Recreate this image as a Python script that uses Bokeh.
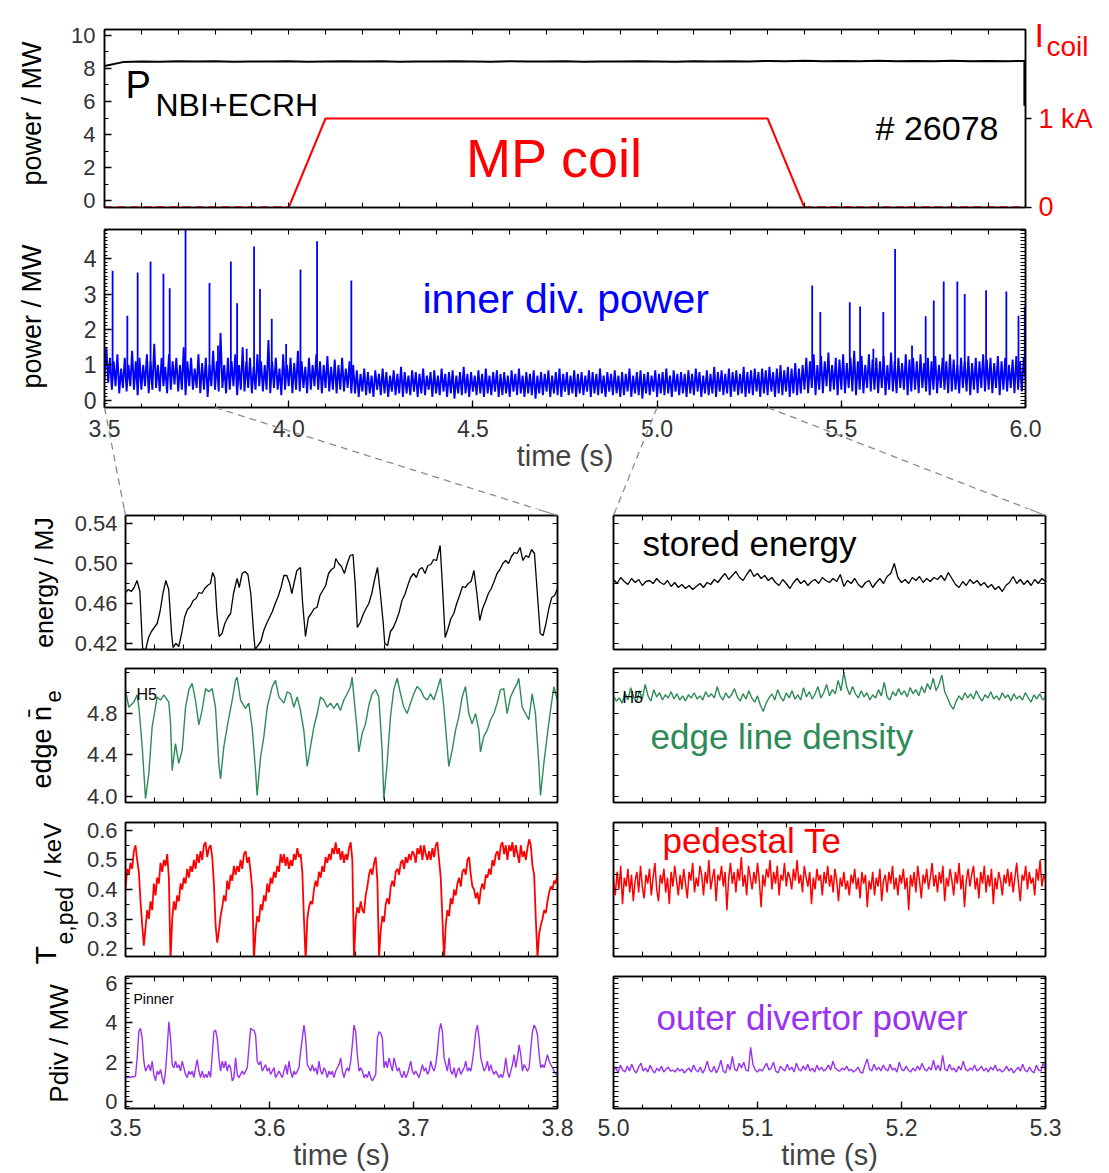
import numpy as np
from bokeh.plotting import figure
from bokeh.models import Range1d, LinearAxis, FixedTicker, PrintfTickFormatter
from bokeh.core.properties import value
from bokeh.layouts import column, row
from bokeh.embed import file_html
from bokeh.resources import INLINE

FONT = "Liberation Sans"
RED = "#ff0000"
BLUE = "#0000ff"
GREEN = "#2e8b57"
PURPLE = "#9a32f2"

# ------------------------------------------------------------------ data
# top panel: heating power (MW), sampled uniformly 3.5 ... 6.0 s
nbi_power = [8.15, 8.38, 8.42, 8.40, 8.43, 8.41, 8.44, 8.40, 8.42, 8.41,
             8.43, 8.40, 8.42, 8.44, 8.41, 8.43, 8.40, 8.42, 8.41, 8.43,
             8.42, 8.40, 8.43, 8.41, 8.42, 8.44, 8.40, 8.42, 8.41, 8.43,
             8.42, 8.40, 8.43, 8.41, 8.44, 8.42, 8.45, 8.43, 8.46, 8.44,
             8.45, 8.43, 8.46, 8.44, 8.45, 8.43, 8.46, 8.44, 8.45, 8.44, 8.45]
nbi_off_t = [5.997, 5.997]
nbi_off_p = [8.45, 5.75]
# MP coil current (kA)
coil_t = [3.5, 4.0, 4.1, 5.3, 5.4, 6.0]
coil_ka = [0.0, 0.0, 1.0, 1.0, 0.0, 0.0]

# inner divertor power (MW), uniform samples 3.5 ... 6.0 s (noise band)
inner_div = [
    0.6, 1.5, 0.5, 1.2, 0.3, 1.1, 0.4, 1.3, 0.2, 0.9, 0.35, 1.2, 0.25, 1.0, 0.4, 1.4, 0.3, 1.1, 0.15, 1.2,
    0.3, 1.0, 0.4, 1.3, 0.2, 1.1, 0.3, 1.6, 0.35, 1.0, 0.25, 1.2, 0.4, 0.95, 0.2, 1.3, 0.3, 1.1, 0.45, 1.2,
    0.25, 1.0, 0.3, 1.5, 0.15, 1.1, 0.4, 1.2, 0.3, 0.9, 0.35, 1.3, 0.2, 1.05, 0.3, 1.2, 0.1, 1.0, 0.4, 1.4,
    0.3, 1.1, 0.25, 1.9, 0.35, 1.0, 0.2, 1.2, 0.3, 1.1, 0.4, 1.3, 0.15, 1.0, 0.3, 1.5, 0.25, 1.1, 0.35, 1.2,
    0.2, 0.95, 0.3, 1.3, 0.4, 1.1, 0.25, 1.0, 0.3, 1.7, 0.2, 1.1, 0.35, 1.2, 0.3, 0.9, 0.15, 1.3, 0.3, 1.0,
    0.4, 1.2, 0.2, 1.05, 0.3, 1.4, 0.25, 1.1, 0.35, 0.95, 0.2, 1.2, 0.3, 1.0, 0.4, 1.3, 0.3, 1.1, 0.2, 1.0,
    0.35, 1.25, 0.25, 0.95, 0.3, 1.15, 0.2, 1.0, 0.3, 1.2, 0.25, 0.9, 0.35, 1.1, 0.2, 1.0,
    0.2, 0.85, 0.1, 0.75, 0.25, 0.9, 0.15, 0.8, 0.2, 0.7, 0.1, 0.85, 0.3, 0.75, 0.15, 0.9, 0.2, 0.8, 0.1, 0.7,
    0.25, 0.85, 0.15, 0.75, 0.2, 0.95, 0.1, 0.8, 0.2, 0.7, 0.15, 0.85, 0.25, 0.8, 0.1, 0.75, 0.2, 0.9, 0.15, 0.7,
    0.3, 0.8, 0.1, 0.85, 0.2, 0.7, 0.15, 0.9, 0.25, 0.75, 0.1, 0.8, 0.2, 0.85, 0.05, 0.7, 0.2, 0.8, 0.15, 0.95,
    0.2, 0.75, 0.1, 0.8, 0.25, 0.7, 0.15, 0.85, 0.2, 0.75, 0.1, 0.9, 0.2, 0.7, 0.15, 0.8, 0.25, 0.85, 0.1, 0.75,
    0.15, 0.8, 0.2, 0.7, 0.1, 0.85, 0.25, 0.75, 0.15, 0.9, 0.2, 0.7, 0.1, 0.8, 0.2, 0.75, 0.15, 0.85, 0.05, 0.7,
    0.2, 0.8, 0.15, 0.75, 0.25, 0.85, 0.1, 0.7, 0.2, 0.8, 0.15, 0.9, 0.1, 0.75, 0.25, 0.8, 0.15, 0.7, 0.2, 0.85,
    0.1, 0.75, 0.2, 0.8, 0.15, 0.7, 0.25, 0.85, 0.1, 0.8, 0.2, 0.75, 0.15, 0.9, 0.2, 0.7, 0.1, 0.8, 0.25, 0.75,
    0.15, 0.85, 0.2, 0.7, 0.1, 0.8, 0.15, 0.75, 0.25, 0.9, 0.1, 0.7, 0.2, 0.8, 0.15, 0.85, 0.05, 0.75, 0.2, 0.8,
    0.15, 0.7, 0.25, 0.85, 0.1, 0.75, 0.2, 0.8, 0.15, 0.9, 0.2, 0.7, 0.1, 0.85, 0.25, 0.75, 0.15, 0.8, 0.2, 0.75,
    0.1, 0.85, 0.2, 0.75, 0.15, 0.9, 0.25, 0.8, 0.1, 0.7, 0.2, 0.85, 0.15, 0.75, 0.2, 0.95, 0.1, 0.8, 0.25, 0.85,
    0.15, 0.75, 0.2, 0.9, 0.1, 0.8, 0.25, 0.85, 0.15, 0.75, 0.2, 0.95, 0.1, 0.8, 0.2, 0.85, 0.15, 0.9, 0.25, 0.8,
    0.1, 0.9, 0.2, 0.85, 0.15, 0.95, 0.25, 0.8, 0.1, 0.9, 0.2, 1.0, 0.15, 0.85, 0.25, 0.95, 0.1, 0.9, 0.2, 1.05,
    0.15, 0.9, 0.2, 1.0,
    0.3, 1.2, 0.2, 1.1, 0.35, 1.3, 0.15, 1.0, 0.3, 1.25, 0.2, 1.1, 0.4, 1.35, 0.25, 1.0, 0.3, 1.2, 0.15, 1.15,
    0.3, 1.3, 0.2, 1.05, 0.35, 1.2, 0.25, 1.4, 0.15, 1.1, 0.3, 1.25, 0.2, 1.0, 0.35, 1.3, 0.25, 1.15, 0.3, 1.2,
    0.2, 1.1, 0.35, 1.25, 0.15, 1.0, 0.3, 1.35, 0.25, 1.1, 0.2, 1.2, 0.35, 1.05, 0.3, 1.3, 0.15, 1.15, 0.25, 1.2,
    0.3, 1.1, 0.2, 1.3, 0.35, 1.05, 0.25, 1.2, 0.15, 1.1, 0.3, 1.25, 0.2, 1.0, 0.35, 1.2, 0.3, 1.1, 0.2, 1.3,
    0.25, 1.15, 0.3, 1.0, 0.2, 1.2, 0.35, 1.1, 0.25, 1.25, 0.15, 1.05, 0.3, 1.2, 0.2, 1.1, 0.35, 1.3, 0.25, 1.15,
    0.3, 1.2, 0.2, 1.05, 0.35, 1.25, 0.15, 1.1, 0.3, 1.2, 0.25, 1.0, 0.35, 1.15, 0.2, 1.25, 0.3, 1.1, 0.25, 1.2,
    0.6]
# ELM spikes on the inner divertor power
spike_t = [3.522, 3.562, 3.590, 3.625, 3.660, 3.677, 3.720, 3.785, 3.808, 3.843,
           3.860, 3.886, 3.906, 3.922, 3.954, 3.993, 4.032, 4.077, 4.170,
           5.421, 5.443, 5.523, 5.551, 5.587, 5.614, 5.646, 5.692, 5.729, 5.751,
           5.778, 5.815, 5.835, 5.893, 5.948, 5.981, 5.998]
spike_peak = [3.66, 2.39, 3.61, 3.92, 3.57, 3.16, 4.90, 3.31, 1.55, 3.92,
              2.74, 1.46, 4.34, 3.14, 2.30, 1.59, 3.69, 4.49, 3.38,
              3.24, 2.49, 2.77, 2.65, 1.46, 2.49, 4.27, 1.55, 2.37, 2.82,
              3.35, 3.35, 3.00, 3.11, 3.07, 2.39, 2.65]

# zoom windows
win_left = (3.5, 3.8)
win_right = (5.0, 5.3)

# stored energy (MJ), 3.5-3.8 s
energy_l_t = [3.500, 3.502, 3.504, 3.506, 3.508, 3.510, 3.5115, 3.512, 3.514, 3.516,
              3.518, 3.520, 3.522, 3.524, 3.526, 3.528, 3.530, 3.532, 3.533, 3.535,
              3.537, 3.539, 3.541, 3.543, 3.545, 3.547, 3.549, 3.551, 3.553, 3.555,
              3.557, 3.559, 3.5605, 3.562, 3.5635, 3.565, 3.567, 3.569, 3.571, 3.573,
              3.575, 3.5775, 3.579, 3.581, 3.583, 3.585, 3.587, 3.589, 3.590, 3.592,
              3.594, 3.596, 3.598, 3.600, 3.602, 3.604, 3.606, 3.608, 3.610, 3.612,
              3.614, 3.6155, 3.617, 3.619, 3.6215, 3.623, 3.625, 3.627, 3.629, 3.631,
              3.633, 3.635, 3.637, 3.639, 3.641, 3.643, 3.645, 3.646, 3.648, 3.650,
              3.652, 3.654, 3.656, 3.658, 3.6595, 3.661, 3.663, 3.665, 3.667, 3.669,
              3.671, 3.673, 3.675, 3.677, 3.679, 3.680, 3.682, 3.684, 3.686, 3.688,
              3.690, 3.692, 3.694, 3.696, 3.698, 3.700, 3.702, 3.704, 3.706, 3.708,
              3.710, 3.712, 3.714, 3.716, 3.7185, 3.720, 3.722, 3.724, 3.726, 3.728,
              3.730, 3.732, 3.734, 3.736, 3.738, 3.740, 3.742, 3.744, 3.746, 3.748,
              3.750, 3.752, 3.754, 3.756, 3.758, 3.760, 3.762, 3.764, 3.766, 3.768,
              3.770, 3.772, 3.774, 3.776, 3.778, 3.780, 3.782, 3.784, 3.786, 3.788,
              3.790, 3.792, 3.794, 3.796, 3.798, 3.800]
energy_l = [0.471, 0.474, 0.472, 0.476, 0.483, 0.472, 0.425, 0.414, 0.414, 0.426,
            0.432, 0.436, 0.440, 0.452, 0.470, 0.483, 0.474, 0.430, 0.416, 0.420,
            0.417, 0.430, 0.446, 0.454, 0.457, 0.463, 0.465, 0.471, 0.470, 0.475,
            0.478, 0.480, 0.491, 0.486, 0.450, 0.427, 0.430, 0.440, 0.446, 0.450,
            0.470, 0.485, 0.476, 0.490, 0.492, 0.489, 0.470, 0.430, 0.414, 0.418,
            0.422, 0.433, 0.440, 0.446, 0.452, 0.460, 0.467, 0.476, 0.488, 0.488,
            0.480, 0.470, 0.480, 0.493, 0.496, 0.460, 0.427, 0.446, 0.450, 0.455,
            0.456, 0.468, 0.473, 0.478, 0.490, 0.494, 0.496, 0.505, 0.500, 0.497,
            0.490, 0.500, 0.508, 0.509, 0.480, 0.436, 0.441, 0.449, 0.455, 0.460,
            0.470, 0.484, 0.496, 0.470, 0.440, 0.420, 0.418, 0.432, 0.436, 0.443,
            0.451, 0.463, 0.469, 0.478, 0.486, 0.490, 0.486, 0.494, 0.496, 0.490,
            0.498, 0.499, 0.504, 0.503, 0.518, 0.480, 0.426, 0.435, 0.445, 0.450,
            0.460, 0.468, 0.477, 0.476, 0.480, 0.482, 0.493, 0.470, 0.443, 0.455,
            0.462, 0.470, 0.475, 0.482, 0.490, 0.494, 0.500, 0.503, 0.500, 0.507,
            0.511, 0.510, 0.516, 0.503, 0.508, 0.506, 0.514, 0.510, 0.470, 0.430,
            0.428, 0.440, 0.455, 0.466, 0.468, 0.475]

# edge line density, 3.5-3.8 s
ne_l_t = [3.5000, 3.5023, 3.5058, 3.5081, 3.5093, 3.5116, 3.5139, 3.5162, 3.5185, 3.5220,
          3.5243, 3.5266, 3.5301, 3.5313, 3.5324, 3.5347, 3.5370, 3.5394, 3.5417, 3.5440,
          3.5463, 3.5486, 3.5509, 3.5532, 3.5556, 3.5579, 3.5602, 3.5625, 3.5648, 3.5660,
          3.5683, 3.5706, 3.5741, 3.5764, 3.5775, 3.5799, 3.5833, 3.5856, 3.5880, 3.5903,
          3.5914, 3.5938, 3.5961, 3.5984, 3.6019, 3.6042, 3.6065, 3.6100, 3.6123, 3.6146,
          3.6169, 3.6192, 3.6215, 3.6238, 3.6262, 3.6285, 3.6308, 3.6331, 3.6354, 3.6377,
          3.6400, 3.6424, 3.6447, 3.6470, 3.6493, 3.6516, 3.6539, 3.6563, 3.6574, 3.6586,
          3.6609, 3.6620, 3.6644, 3.6667, 3.6690, 3.6713, 3.6736, 3.6759, 3.6782, 3.6794,
          3.6817, 3.6840, 3.6863, 3.6887, 3.6910, 3.6933, 3.6956, 3.6979, 3.7002, 3.7025,
          3.7049, 3.7072, 3.7095, 3.7118, 3.7141, 3.7164, 3.7188, 3.7211, 3.7234, 3.7245,
          3.7269, 3.7292, 3.7315, 3.7338, 3.7361, 3.7384, 3.7407, 3.7431, 3.7454, 3.7465,
          3.7488, 3.7512, 3.7535, 3.7558, 3.7581, 3.7604, 3.7627, 3.7650, 3.7674, 3.7697,
          3.7720, 3.7731, 3.7755, 3.7778, 3.7801, 3.7824, 3.7847, 3.7870, 3.7882, 3.7905,
          3.7928, 3.7951, 3.7975, 3.7998]
ne_l = [5.03, 4.86, 4.91, 4.98, 4.86, 4.48, 3.98, 4.22, 4.67, 4.96,
        4.93, 4.98, 4.91, 4.70, 4.25, 4.51, 4.32, 4.45, 4.86, 5.03,
        5.09, 4.93, 4.69, 4.83, 5.04, 5.01, 5.04, 4.86, 4.32, 4.17,
        4.48, 4.67, 4.93, 5.12, 5.15, 4.93, 4.85, 4.90, 4.66, 4.25,
        4.01, 4.38, 4.58, 4.86, 5.06, 5.12, 4.96, 4.90, 5.01, 4.99,
        4.86, 4.96, 4.83, 4.64, 4.29, 4.48, 4.67, 4.80, 4.96, 4.93,
        4.86, 4.90, 4.85, 4.90, 4.83, 4.93, 4.99, 5.06, 5.15, 4.96,
        4.64, 4.43, 4.61, 4.70, 4.88, 4.99, 5.03, 4.96, 4.45, 3.97,
        4.32, 4.77, 5.03, 5.14, 4.99, 4.86, 4.80, 4.90, 4.99, 5.06,
        5.03, 4.96, 4.93, 4.99, 4.93, 5.03, 5.14, 4.86, 4.48, 4.29,
        4.45, 4.64, 4.77, 4.96, 5.06, 4.80, 4.70, 4.80, 4.64, 4.43,
        4.58, 4.64, 4.74, 4.80, 4.90, 5.03, 5.04, 4.80, 4.96, 5.03,
        5.09, 5.14, 4.86, 4.80, 4.74, 4.99, 4.80, 4.32, 4.01, 4.32,
        4.58, 4.83, 5.06, 4.93]

# pedestal Te (keV), uniform samples 3.5-3.8 s
te_l = [0.40, 0.47, 0.45, 0.49, 0.47, 0.53, 0.55, 0.50, 0.46, 0.36, 0.28, 0.21, 0.27, 0.33, 0.30, 0.36, 0.33, 0.42, 0.38, 0.44,
        0.42, 0.49, 0.46, 0.50, 0.48, 0.52, 0.44, 0.16, 0.30, 0.36, 0.33, 0.38, 0.36, 0.42, 0.40, 0.44, 0.42, 0.47, 0.44, 0.48,
        0.46, 0.50, 0.47, 0.52, 0.49, 0.53, 0.50, 0.55, 0.56, 0.51, 0.54, 0.55, 0.51, 0.42, 0.28, 0.22, 0.26, 0.31, 0.34, 0.38,
        0.36, 0.43, 0.40, 0.45, 0.43, 0.48, 0.45, 0.48, 0.46, 0.50, 0.47, 0.52, 0.53, 0.49, 0.51, 0.46, 0.40, 0.16, 0.26, 0.31,
        0.29, 0.35, 0.33, 0.38, 0.36, 0.42, 0.39, 0.44, 0.42, 0.46, 0.44, 0.48, 0.46, 0.52, 0.49, 0.52, 0.48, 0.51, 0.47, 0.50,
        0.48, 0.52, 0.50, 0.54, 0.51, 0.52, 0.46, 0.30, 0.16, 0.30, 0.34, 0.36, 0.35, 0.40, 0.43, 0.41, 0.46, 0.44, 0.48, 0.46,
        0.51, 0.49, 0.52, 0.50, 0.54, 0.52, 0.56, 0.52, 0.54, 0.50, 0.53, 0.49, 0.52, 0.50, 0.54, 0.56, 0.50, 0.16, 0.30, 0.34,
        0.32, 0.36, 0.33, 0.32, 0.38, 0.41, 0.45, 0.47, 0.45, 0.49, 0.51, 0.43, 0.17, 0.26, 0.31, 0.29, 0.35, 0.37, 0.35, 0.41,
        0.43, 0.41, 0.46, 0.47, 0.45, 0.49, 0.50, 0.47, 0.51, 0.49, 0.52, 0.50, 0.53, 0.52, 0.49, 0.54, 0.52, 0.55, 0.50, 0.55,
        0.52, 0.50, 0.53, 0.50, 0.54, 0.51, 0.55, 0.56, 0.50, 0.44, 0.30, 0.16, 0.28, 0.33, 0.31, 0.37, 0.35, 0.40, 0.38, 0.42,
        0.44, 0.41, 0.46, 0.47, 0.45, 0.50, 0.51, 0.45, 0.41, 0.40, 0.37, 0.39, 0.35, 0.40, 0.42, 0.40, 0.45, 0.44, 0.47, 0.45,
        0.50, 0.48, 0.52, 0.53, 0.50, 0.55, 0.56, 0.52, 0.55, 0.50, 0.55, 0.53, 0.56, 0.51, 0.55, 0.52, 0.49, 0.55, 0.51, 0.53,
        0.50, 0.54, 0.57, 0.55, 0.48, 0.45, 0.30, 0.17, 0.25, 0.28, 0.30, 0.33, 0.32, 0.36, 0.39, 0.41, 0.40, 0.43, 0.42, 0.46]

# outer divertor power (MW), uniform samples 3.5-3.8 s
pdiv_l = [1.22, 1.22, 1.25, 1.22, 1.28, 1.25, 1.30, 2.22, 3.55, 3.72, 3.22, 2.05, 1.55, 1.72, 1.88, 1.55, 2.05, 1.38, 1.05, 1.55,
          1.38, 1.63, 1.22, 0.88, 1.55, 2.72, 4.05, 3.22, 1.88, 1.72, 2.05, 1.72, 1.88, 1.55, 2.05, 1.72, 1.38, 1.22, 1.55, 1.38,
          1.55, 1.22, 1.72, 2.13, 1.55, 1.22, 1.55, 1.22, 1.38, 1.22, 1.55, 1.22, 2.38, 3.55, 3.63, 3.22, 2.22, 1.55, 2.05, 1.72,
          2.05, 1.55, 1.88, 1.72, 1.05, 1.22, 2.22, 1.38, 1.22, 1.38, 1.55, 1.38, 1.55, 1.72, 2.72, 3.72, 3.63, 3.63, 3.38, 2.05,
          1.88, 2.05, 1.55, 1.72, 1.88, 1.55, 1.72, 1.38, 1.55, 1.72, 1.22, 1.38, 1.55, 1.38, 1.22, 1.55, 1.88, 1.38, 2.05, 1.55,
          1.22, 1.55, 1.38, 1.55, 1.72, 2.55, 3.22, 3.88, 3.22, 1.88, 1.72, 1.55, 1.88, 1.55, 1.72, 1.38, 2.05, 1.55, 1.38, 1.72,
          1.55, 1.22, 1.55, 1.38, 1.55, 1.22, 1.55, 1.72, 1.88, 2.22, 1.55, 1.22, 1.55, 1.72, 1.55, 2.05, 2.88, 3.88, 3.55, 2.38,
          1.55, 1.72, 1.55, 1.22, 1.38, 1.22, 1.55, 1.22, 1.05, 1.22, 1.38, 3.22, 3.55, 3.47, 3.22, 1.72, 2.05, 1.72, 2.22, 1.88,
          1.55, 2.22, 1.88, 1.55, 1.72, 1.38, 1.22, 1.55, 1.22, 1.38, 1.72, 2.05, 1.55, 1.38, 1.55, 1.38, 1.22, 1.55, 1.88, 1.55,
          1.72, 1.38, 1.55, 2.05, 1.72, 1.55, 1.88, 2.55, 3.55, 3.97, 3.55, 2.22, 1.88, 1.55, 2.22, 1.55, 1.38, 1.72, 1.22, 1.55,
          1.72, 1.38, 1.55, 1.72, 2.05, 1.55, 1.72, 1.55, 2.05, 2.72, 3.55, 3.88, 3.22, 2.22, 1.88, 1.55, 1.72, 2.05, 1.55, 1.88,
          1.55, 1.38, 1.55, 1.38, 1.22, 1.38, 1.22, 1.55, 2.22, 1.55, 1.22, 1.55, 1.88, 2.38, 1.72, 2.22, 2.88, 2.38, 1.55, 1.88,
          1.72, 1.55, 1.72, 2.72, 3.55, 3.88, 3.72, 3.38, 2.38, 1.72, 1.88, 1.72, 2.05, 2.38, 2.05, 1.88, 1.72, 1.55, 1.38, 1.38]

# right column, 5.0-5.3 s (uniform samples)
energy_r = [0.484, 0.480, 0.486, 0.482, 0.479, 0.485, 0.481, 0.484, 0.478, 0.482, 0.483,
            0.480, 0.485, 0.481, 0.479, 0.483, 0.477, 0.481, 0.476, 0.479, 0.475,
            0.478, 0.474, 0.477, 0.480, 0.476, 0.481, 0.479, 0.484, 0.481, 0.486,
            0.490, 0.484, 0.488, 0.492, 0.486, 0.483, 0.489, 0.494, 0.487, 0.490,
            0.485, 0.488, 0.483, 0.486, 0.481, 0.478, 0.484, 0.480, 0.475, 0.481,
            0.485, 0.480, 0.483, 0.478, 0.482, 0.484, 0.480, 0.486, 0.483, 0.481,
            0.485, 0.482, 0.489, 0.477, 0.483, 0.480, 0.485, 0.479, 0.476, 0.481,
            0.483, 0.476, 0.481, 0.485, 0.480, 0.487, 0.490, 0.500, 0.486, 0.481,
            0.484, 0.480, 0.486, 0.483, 0.487, 0.481, 0.485, 0.482, 0.486, 0.484,
            0.488, 0.483, 0.491, 0.485, 0.479, 0.476, 0.482, 0.478, 0.484, 0.480,
            0.483, 0.478, 0.481, 0.476, 0.479, 0.474, 0.477, 0.472, 0.478, 0.481,
            0.487, 0.480, 0.484, 0.479, 0.483, 0.478, 0.484, 0.480, 0.485, 0.482]
ne_r = [4.97, 4.92, 4.95, 4.90, 5.00, 4.93, 5.05, 4.96, 4.91, 5.02, 4.94, 5.08, 4.97, 4.92, 5.03, 4.96, 5.00, 4.93, 4.98, 4.95, 5.01,
        4.94, 4.99, 4.93, 4.97, 4.92, 4.98, 4.95, 5.00, 4.94, 4.97, 4.93, 5.01, 4.96, 4.99, 4.95, 5.06, 4.97, 4.93, 5.00, 4.95,
        4.98, 5.04, 4.96, 4.92, 4.99, 4.94, 5.02, 4.95, 4.91, 4.97, 4.88, 4.82, 4.90, 4.95, 4.99, 4.93, 5.03, 4.96, 4.92, 5.00,
        4.95, 5.02, 4.94, 4.98, 4.93, 5.05, 4.96, 5.01, 4.94, 4.99, 5.06, 4.95, 5.00, 5.08, 4.97, 5.03, 4.99, 5.12, 5.02, 5.20,
        5.05, 4.98, 5.06, 4.99, 4.95, 5.02, 4.96, 5.00, 4.93, 4.98, 4.95, 5.03, 4.97, 5.10, 4.96, 4.93, 5.01, 4.97, 5.04, 4.98,
        5.02, 4.96, 5.05, 4.99, 5.03, 4.97, 5.06, 5.00, 5.09, 5.03, 5.14, 5.02, 5.08, 5.17, 5.01, 4.95, 4.88, 4.84, 4.92, 4.97,
        4.93, 5.00, 4.95, 4.99, 4.94, 5.02, 4.96, 4.92, 4.98, 4.95, 5.01, 4.94, 4.97, 4.93, 5.00, 4.95, 4.98, 4.92, 4.99, 4.94,
        4.97, 4.93, 5.00, 4.95, 4.91, 4.98, 4.94, 4.99, 4.93, 4.96]
te_r = [0.43, 0.38, 0.46, 0.40, 0.48, 0.35, 0.44, 0.41, 0.47, 0.39, 0.45, 0.36, 0.43, 0.46, 0.39, 0.48, 0.41, 0.37, 0.45, 0.42,
        0.47, 0.38, 0.44, 0.49, 0.40, 0.36, 0.45, 0.42, 0.47, 0.39, 0.44, 0.35, 0.46, 0.41, 0.48, 0.43, 0.38, 0.45, 0.40, 0.47,
        0.42, 0.37, 0.46, 0.43, 0.49, 0.39, 0.44, 0.41, 0.48, 0.45, 0.38, 0.46, 0.42, 0.50, 0.40, 0.44, 0.47, 0.36, 0.45, 0.43,
        0.48, 0.41, 0.46, 0.33, 0.44, 0.49, 0.42, 0.46, 0.39, 0.47, 0.43, 0.51, 0.41, 0.45, 0.38, 0.48, 0.44, 0.40, 0.46, 0.42,
        0.49, 0.43, 0.34, 0.45, 0.41, 0.47, 0.44, 0.50, 0.40, 0.46, 0.42, 0.48, 0.38, 0.45, 0.43, 0.49, 0.41, 0.46, 0.44, 0.40,
        0.47, 0.43, 0.50, 0.42, 0.45, 0.39, 0.48, 0.44, 0.41, 0.46, 0.35, 0.44, 0.40, 0.47, 0.43, 0.45, 0.38, 0.46, 0.42, 0.48,
        0.41, 0.45, 0.39, 0.47, 0.43, 0.36, 0.44, 0.41, 0.46, 0.40, 0.43, 0.38, 0.45, 0.42, 0.47, 0.40, 0.44, 0.37, 0.46, 0.42,
        0.45, 0.34, 0.43, 0.40, 0.46, 0.38, 0.44, 0.41, 0.47, 0.36, 0.43, 0.45, 0.39, 0.46, 0.42, 0.48, 0.40, 0.44, 0.38, 0.45,
        0.42, 0.47, 0.40, 0.44, 0.33, 0.45, 0.41, 0.46, 0.39, 0.48, 0.43, 0.37, 0.45, 0.42, 0.47, 0.40, 0.44, 0.49, 0.41, 0.45,
        0.39, 0.46, 0.42, 0.48, 0.36, 0.44, 0.41, 0.47, 0.43, 0.38, 0.46, 0.42, 0.49, 0.40, 0.45, 0.34, 0.43, 0.47, 0.41, 0.45,
        0.48, 0.40, 0.44, 0.37, 0.46, 0.42, 0.48, 0.39, 0.45, 0.41, 0.47, 0.35, 0.44, 0.40, 0.46, 0.43, 0.38, 0.45, 0.42, 0.47,
        0.41, 0.46, 0.39, 0.44, 0.49, 0.42, 0.36, 0.45, 0.43, 0.48, 0.40, 0.46, 0.42, 0.44, 0.38, 0.47, 0.43, 0.50, 0.41, 0.45,
        0.43]
pdiv_r = [1.55, 1.75, 1.45, 1.85, 1.60, 1.50, 1.80, 1.55, 1.90, 1.60, 1.45, 1.75, 1.95, 1.55, 1.70, 1.50, 1.85, 1.60, 1.45, 1.70,
          1.55, 1.80, 1.50, 1.65, 1.75, 1.55, 1.60, 1.50, 1.70, 1.55, 1.65, 1.45, 1.60, 1.70, 1.50, 1.85, 1.60, 1.50, 1.75, 1.45,
          1.65, 2.05, 1.60, 1.50, 1.80, 1.45, 1.70, 2.10, 1.55, 1.45, 1.90, 1.60, 2.30, 1.65, 1.55, 1.95, 1.70, 2.00, 1.60, 1.55,
          2.75, 1.90, 1.60, 1.50, 1.65, 1.55, 1.75, 1.95, 1.60, 1.70, 2.00, 1.55, 1.45, 1.80, 1.65, 1.55, 1.90, 1.60, 1.75, 1.50,
          1.95, 1.65, 1.55, 1.80, 1.60, 1.90, 1.55, 1.70, 1.50, 1.85, 1.60, 1.75, 1.55, 1.65, 1.85, 1.60, 2.05, 1.70, 1.60, 1.55,
          1.70, 1.60, 1.80, 1.55, 1.65, 1.50, 1.60, 1.75, 1.50, 1.45, 1.85, 2.15, 1.65, 1.55, 1.90, 1.60, 1.75, 1.55, 1.85, 1.65,
          1.55, 1.90, 1.60, 1.70, 1.50, 2.00, 1.65, 1.55, 1.80, 1.60, 1.50, 1.70, 1.55, 1.80, 1.60, 1.95, 1.65, 1.55, 1.75, 1.60,
          2.10, 1.60, 1.85, 1.55, 2.35, 1.65, 1.55, 1.90, 1.60, 1.70, 1.50, 1.80, 1.60, 2.05, 1.65, 1.55, 1.70, 1.60, 1.85, 1.55,
          1.65, 1.80, 1.55, 1.70, 1.50, 1.75, 1.60, 1.85, 1.55, 1.65, 1.50, 1.60, 1.80, 1.55, 1.70, 1.45, 1.60, 1.75, 1.55, 1.90,
          1.60, 1.50, 1.75, 1.55, 1.45, 1.85, 1.60, 1.55, 2.00, 1.60]


# ------------------------------------------------------------------ helpers
def to_data(box, px, py):
    (fx0, fy0, fx1, fy1), (x0, x1), (y0, y1) = box
    return (x0 + (px - fx0) / (fx1 - fx0) * (x1 - x0),
            y0 + (fy1 - py) / (fy1 - fy0) * (y1 - y0))


MID = 0.35  # distance baseline -> middle of the text, in font sizes


def add_text(p, box, px, py, text, size, color="black", align="left", angle=0.0, center=False):
    """(px, py) is the page position of the baseline start (or of the centre)."""
    if not center:
        if angle == 0.0:
            py = py - MID * size
        else:
            px = px - MID * size
    x, y = to_data(box, px, py)
    p.text(x=[x], y=[y], text=[text], angle=angle, text_font=value(FONT),
           text_font_size=value(f"{size}px"), text_color=color, text_align=align,
           text_baseline="middle", level="overlay")


def style_axis(ax, major, minor, fmt=None, size=None, color="#333", inside=True,
               standoff=8, tlen=7, mlen=4):
    if size:
        ax.ticker = FixedTicker(ticks=list(major), minor_ticks=list(minor))
    else:
        # unlabelled axis: every tick drawn as a (label-free) minor tick
        ax.ticker = FixedTicker(ticks=[], minor_ticks=sorted(list(major) + list(minor)))
        mlen = 5
    if fmt:
        ax.formatter = PrintfTickFormatter(format=fmt)
    ax.major_tick_in = tlen if inside else 0
    ax.major_tick_out = 0 if inside else tlen
    ax.minor_tick_in = mlen if inside else 0
    ax.minor_tick_out = 0 if inside else mlen
    ax.axis_line_color = "black"
    ax.axis_line_width = 1.5
    ax.major_tick_line_color = "black"
    ax.major_tick_line_width = 1.3
    ax.minor_tick_line_color = "black"
    ax.minor_tick_line_width = 1.1
    ax.major_label_text_font = FONT
    ax.axis_label_text_font = FONT
    ax.axis_label_text_font_style = "normal"
    ax.major_label_text_font_size = f"{size or 20}px"
    ax.major_label_text_color = color
    ax.major_label_standoff = standoff if size else 0


def new_fig(w, h, l, r, t, b, xr, yr):
    p = figure(width=w, height=h, x_range=Range1d(*xr), y_range=Range1d(*yr), title=None,
               output_backend="svg", toolbar_location=None, tools="",
               min_border_left=l, min_border_right=r, min_border_top=t, min_border_bottom=b)
    p.grid.visible = False
    p.outline_line_color = "black"
    p.outline_line_width = 1.5
    p.outline_line_alpha = 1.0
    p.background_fill_color = "white"
    p.border_fill_color = "white"
    return p


def mirror(p, xmaj, xmin, ymaj, ymin, right=True):
    ax = LinearAxis()
    style_axis(ax, xmaj, xmin)
    p.add_layout(ax, "above")
    if right:
        ay = LinearAxis()
        style_axis(ay, ymaj, ymin)
        p.add_layout(ay, "right")


X_MAJ = [3.5, 4.0, 4.5, 5.0, 5.5, 6.0]
X_MIN = list(np.round(np.arange(3.6, 6.0, 0.1), 2))
GREY = "#8c8c8c"

# ------------------------------------------------------------------ top panel
TOPBOX = ((104, 29, 1025, 207), (3.5, 6.0), (-0.4, 10.35))
top = new_fig(1109, 221, 104, 84, 29, 14, TOPBOX[1], TOPBOX[2])
style_axis(top.xaxis[0], X_MAJ, X_MIN)
style_axis(top.yaxis[0], [0, 2, 4, 6, 8, 10], [1, 3, 5, 7, 9], fmt="%d", size=22, standoff=9)
ax_top = LinearAxis()
style_axis(ax_top, X_MAJ, X_MIN)
top.add_layout(ax_top, "above")
top.extra_y_ranges = {"coil": Range1d(0, 2.0)}
coil_axis = LinearAxis(y_range_name="coil")
style_axis(coil_axis, [0, 1], [], size=27, color=RED, inside=False, standoff=7, tlen=6)
coil_axis.major_label_overrides = {0: "0", 1: "1 kA"}
top.add_layout(coil_axis, "right")

nbi_t = np.linspace(3.5, 6.0, len(nbi_power))
top.line(nbi_t, nbi_power, line_color="black", line_width=2)
top.line(nbi_off_t, nbi_off_p, line_color="black", line_width=2)
top.line(coil_t[1:5], coil_ka[1:5], y_range_name="coil", line_color=RED, line_width=2)
top.line(coil_t[0:2], coil_ka[0:2], y_range_name="coil", line_color=RED, line_width=2.5, line_dash="8 5")
top.line(coil_t[4:6], coil_ka[4:6], y_range_name="coil", line_color=RED, line_width=2.5, line_dash="8 5")

add_text(top, TOPBOX, 31, 113, "power / MW", 27, angle=np.pi / 2, align="center", center=True)
add_text(top, TOPBOX, 125, 98, "P", 38)
add_text(top, TOPBOX, 155, 116, "NBI+ECRH", 32)
add_text(top, TOPBOX, 554, 176, "MP coil", 54, color=RED, align="center")
add_text(top, TOPBOX, 998, 139, "# 26078", 34, align="right")
add_text(top, TOPBOX, 1034, 46, "I", 34, color=RED)
add_text(top, TOPBOX, 1046, 56, "coil", 28, color=RED)

# ------------------------------------------------------------------ inner divertor panel
ROW1_TOP = 509          # page y where the first row of small panels starts
SMALL_TOP = 515         # page y of the small frames' upper edge
P2BOX = ((104, 229, 1025, 407), (3.5, 6.0), (-0.2, 4.82))
p2 = new_fig(1109, ROW1_TOP - 221, 104, 84, 8, ROW1_TOP - 407, P2BOX[1], P2BOX[2])
style_axis(p2.xaxis[0], X_MAJ, X_MIN, fmt="%.1f", size=23, standoff=12)
p2.xaxis[0].axis_label = "time (s)"
p2.xaxis[0].axis_label_text_font_size = "29px"
p2.xaxis[0].axis_label_standoff = 0
P2_MIN = list(np.round(np.arange(-0.1, 4.85, 0.1), 2))
style_axis(p2.yaxis[0], [0, 1, 2, 3, 4], P2_MIN, fmt="%d", size=23, standoff=8, mlen=3)
mirror(p2, X_MAJ, X_MIN, [0, 1, 2, 3, 4], P2_MIN)

inner_t = np.linspace(3.5, 6.0, len(inner_div))
p2.line(inner_t, inner_div, line_color=BLUE, line_width=1.9)
p2.segment(x0=spike_t, y0=[0.7] * len(spike_t), x1=spike_t, y1=spike_peak,
           line_color=BLUE, line_width=1.8)
add_text(p2, P2BOX, 31, 316, "power / MW", 27, angle=np.pi / 2, align="center", center=True)
add_text(p2, P2BOX, 422, 313, "inner div. power", 41, color=BLUE)


def page_x(t):
    (fx0, _, fx1, _), (x0, x1), _ = P2BOX
    return fx0 + (t - x0) / (x1 - x0) * (fx1 - fx0)


# connector lines: window edges (page y 407) -> small-frame corners (page y 515)
connectors = [(page_x(win_left[0]), 125), (page_x(win_left[1]), 557),
              (page_x(win_right[0]), 613), (page_x(win_right[1]), 1045)]
frac = (ROW1_TOP - 407) / (SMALL_TOP - 407)
mid_pts = [xa + frac * (xb - xa) for xa, xb in connectors]
c0 = [to_data(P2BOX, xa, 407) for xa, _ in connectors]
c1 = [to_data(P2BOX, xm, ROW1_TOP) for xm in mid_pts]
p2.segment(x0=[c[0] for c in c0], y0=[c[1] for c in c0], x1=[c[0] for c in c1], y1=[c[1] for c in c1],
           line_color=GREY, line_width=1.3, line_dash="7 5", level="overlay")

# ------------------------------------------------------------------ lower panels
ROWS = [
    dict(py=ROW1_TOP, h=150, top=6, bottom=10, yr=(0.414, 0.548), ymaj=[0.42, 0.46, 0.50, 0.54],
         ymin=[0.44, 0.48, 0.52], fmt="%.2f"),
    dict(py=659, h=154, top=9, bottom=11, yr=(3.942, 5.234), ymaj=[4.0, 4.4, 4.8],
         ymin=[4.2, 4.6, 5.0, 5.2], fmt="%.1f"),
    dict(py=813, h=153, top=9, bottom=10, yr=(0.173, 0.627), ymaj=[0.2, 0.3, 0.4, 0.5, 0.6],
         ymin=[0.25, 0.35, 0.45, 0.55], fmt="%.1f"),
    dict(py=966, h=207, top=10, bottom=63, yr=(-0.35, 6.35), ymaj=[0, 2, 4, 6],
         ymin=list(np.round(np.arange(-0.25, 6.35, 0.25), 2)), fmt="%d"),
]
LX = dict(w=585, l=125, r=28, px0=0)
RX = dict(w=524, l=28, r=64, px0=585)

left_maj = [3.5, 3.6, 3.7, 3.8]
left_min = list(np.round(np.arange(3.52, 3.8, 0.02), 3))
right_maj = [5.0, 5.1, 5.2, 5.3]
right_min = list(np.round(np.arange(5.02, 5.3, 0.02), 3))

rows = []
figs = {}
for i, spec in enumerate(ROWS):
    pair = []
    for side, geo, win, xmaj, xmin in (("L", LX, win_left, left_maj, left_min),
                                       ("R", RX, win_right, right_maj, right_min)):
        p = new_fig(geo["w"], spec["h"], geo["l"], geo["r"], spec["top"], spec["bottom"], win, spec["yr"])
        box = ((geo["px0"] + geo["l"], spec["py"] + spec["top"],
                geo["px0"] + geo["w"] - geo["r"], spec["py"] + spec["h"] - spec["bottom"]),
               win, spec["yr"])
        if i == len(ROWS) - 1:
            style_axis(p.xaxis[0], xmaj, xmin, fmt="%.1f", size=23, standoff=10)
            p.xaxis[0].axis_label = "time (s)"
            p.xaxis[0].axis_label_text_font_size = "29px"
            p.xaxis[0].axis_label_standoff = 0
        else:
            style_axis(p.xaxis[0], xmaj, xmin)
        if side == "L":
            style_axis(p.yaxis[0], spec["ymaj"], spec["ymin"], fmt=spec["fmt"], size=22, standoff=8)
        else:
            style_axis(p.yaxis[0], spec["ymaj"], spec["ymin"])
        mirror(p, xmaj, xmin, spec["ymaj"], spec["ymin"])
        figs[(i, side)] = (p, box)
        pair.append(p)
    rows.append(row(*pair, spacing=0))

# last few pixels of the connector lines, inside the first row of small panels
for k, (xa, xb) in enumerate(connectors):
    side = "L" if k < 2 else "R"
    p, box = figs[(0, side)]
    q0 = to_data(box, mid_pts[k], ROW1_TOP)
    q1 = to_data(box, xb, SMALL_TOP)
    p.segment(x0=[q0[0]], y0=[q0[1]], x1=[q1[0]], y1=[q1[1]], line_color=GREY,
              line_width=1.3, level="overlay")

# traces and texts
pL, bL = figs[(0, "L")]
pR, bR = figs[(0, "R")]
pL.line(energy_l_t, energy_l, line_color="black", line_width=1.3)
pR.line(np.linspace(5.0, 5.3, len(energy_r)), energy_r, line_color="black", line_width=1.3)
add_text(pL, bL, 43, 582, "energy / MJ", 25, angle=np.pi / 2, align="center", center=True)
add_text(pR, bR, 642, 555, "stored energy", 35)

pL, bL = figs[(1, "L")]
pR, bR = figs[(1, "R")]
pL.line(ne_l_t, ne_l, line_color=GREEN, line_width=1.4)
pR.line(np.linspace(5.0, 5.3, len(ne_r)), ne_r, line_color=GREEN, line_width=1.4)
add_text(pL, bL, 51, 788, "edge n\u0304", 27, angle=np.pi / 2)
add_text(pL, bL, 61, 702, "e", 22, angle=np.pi / 2)
add_text(pL, bL, 136, 700, "H5", 16)
add_text(pR, bR, 622, 703, "H5", 16)
add_text(pR, bR, 650, 748, "edge line density", 35, color=GREEN)

pL, bL = figs[(2, "L")]
pR, bR = figs[(2, "R")]
pL.line(np.linspace(3.5, 3.8, len(te_l)), te_l, line_color=RED, line_width=1.8)
pR.line(np.linspace(5.0, 5.3, len(te_r)), te_r, line_color=RED, line_width=1.5)
add_text(pL, bL, 55, 964, "T", 30, angle=np.pi / 2)
add_text(pL, bL, 73, 944, "e,ped", 23, angle=np.pi / 2)
add_text(pL, bL, 60, 877, "/ keV", 24, angle=np.pi / 2)
add_text(pR, bR, 662, 852, "pedestal Te", 35, color=RED)

pL, bL = figs[(3, "L")]
pR, bR = figs[(3, "R")]
pL.line(np.linspace(3.5, 3.8, len(pdiv_l)), pdiv_l, line_color=PURPLE, line_width=1.4)
pR.line(np.linspace(5.0, 5.3, len(pdiv_r)), pdiv_r, line_color=PURPLE, line_width=1.4)
add_text(pL, bL, 58, 1044, "Pdiv / MW", 26, angle=np.pi / 2, align="center", center=True)
add_text(pL, bL, 133, 1004, "Pinner", 14)
add_text(pR, bR, 656, 1030, "outer divertor power", 35, color=PURPLE)

layout = column(top, p2, *rows, spacing=0)
open("out.html", "w").write(file_html(layout, INLINE, title="shot 26078"))
